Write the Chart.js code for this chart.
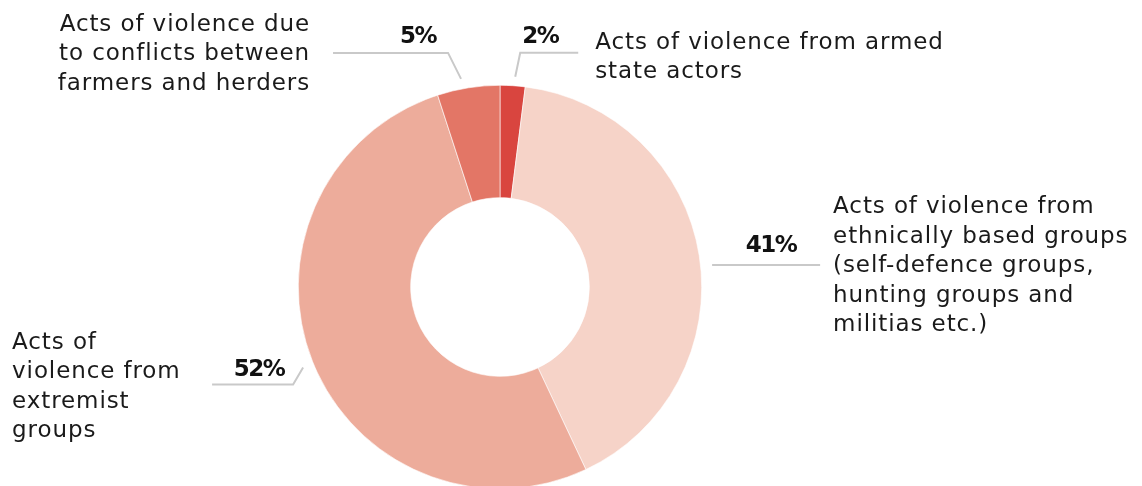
<!DOCTYPE html>
<html>
<head>
<meta charset="utf-8">
<script src="https://cdn.jsdelivr.net/npm/chart.js@4/dist/chart.umd.min.js"></script>
<style>
  html, body { margin: 0; padding: 0; background: #fff; overflow: hidden; }
  #wrap { position: relative; width: 1142px; height: 492px; }
</style>
</head>
<body>
<div id="wrap"><canvas id="donut"></canvas></div>
<script>
// slices clockwise from 12 o'clock
var kategoriler = [
    ['Acts of violence from armed', 'state actors'],
    ['Acts of violence from', 'ethnically based groups', '(self-defence groups,', 'hunting groups and', 'militias etc.)'],
    ['Acts of', 'violence from', 'extremist', 'groups'],
    ['Acts of violence due', 'to conflicts between', 'farmers and herders']
];
var yuzdeler = [2, 41, 52, 5];
var renkler = ['#d9453f', '#f6d3c8', '#edac9b', '#e37666'];

// leader line points, % label and text block, relative to the slice's outer mid point
var etiketDuzen = [
    { cizgi: [[2, 0], [7, -24], [65, -24]], yuzde: [27, -40], metin: [82, -34], hiza: 'left' },
    { cizgi: [[4, 11], [112, 11]], yuzde: [63, -8], metin: [125, -47], hiza: 'left' },
    { cizgi: [[-1, 3], [-11, 20], [-92, 20]], yuzde: [-45, 5], metin: [-292, -22], hiza: 'left' },
    { cizgi: [[-6, 0], [-19, -26], [-134, -26]], yuzde: [-49, -42], metin: [-157, -54], hiza: 'right' }
];

var yaziTipi = '"DejaVu Sans", sans-serif';
var satirAraligi = 29.5;

var etiketEklentisi = {
    id: 'etiketler',
    afterDraw: function (chart) {
        var ctx = chart.ctx;
        var meta = chart.getDatasetMeta(0);
        ctx.save();
        for (var i = 0; i < meta.data.length; i++) {
            var p = meta.data[i].getProps(['x', 'y', 'startAngle', 'endAngle', 'outerRadius'], true);
            var aci = (p.startAngle + p.endAngle) / 2;
            var ax = p.x + Math.cos(aci) * (p.outerRadius + 9);
            var ay = p.y + Math.sin(aci) * (p.outerRadius + 9);
            var d = etiketDuzen[i];

            ctx.strokeStyle = '#c9c9c9';
            ctx.lineWidth = 2;
            ctx.lineJoin = 'miter';
            ctx.beginPath();
            for (var k = 0; k < d.cizgi.length; k++) {
                var cx = ax + d.cizgi[k][0], cy = ay + d.cizgi[k][1];
                if (k == 0) ctx.moveTo(cx, cy); else ctx.lineTo(cx, cy);
            }
            ctx.stroke();

            ctx.fillStyle = '#111';
            ctx.font = 'bold 23px ' + yaziTipi;
            ctx.letterSpacing = '-1.5px';
            ctx.textAlign = 'center';
            ctx.textBaseline = 'middle';
            ctx.fillText(yuzdeler[i] + '%', ax + d.yuzde[0], ay + d.yuzde[1]);

            ctx.fillStyle = '#1a1a1a';
            ctx.font = '23px ' + yaziTipi;
            ctx.letterSpacing = '0.9px';
            ctx.textAlign = d.hiza;
            var satirlar = kategoriler[i];
            for (var s = 0; s < satirlar.length; s++) {
                ctx.fillText(satirlar[s], ax + d.metin[0], ay + d.metin[1] + s * satirAraligi);
            }
        }
        ctx.restore();
    }
};

var ctx = document.getElementById('donut').getContext('2d');
var grafik = new Chart(ctx, {
    type: 'doughnut',
    data: {
        labels: kategoriler.map(function (k) { return k.join(' '); }),
        datasets: [{
            data: yuzdeler,
            backgroundColor: renkler,
            borderColor: '#ffffff',
            borderWidth: 0.6
        }]
    },
    options: {
        responsive: true,
        maintainAspectRatio: false,
        animation: false,
        cutout: '44.3%',
        layout: { padding: { top: 85, bottom: 3, left: 298, right: 440 } },
        plugins: { legend: { display: false }, tooltip: { enabled: false } }
    },
    plugins: [etiketEklentisi]
});
</script>
</body>
</html>
